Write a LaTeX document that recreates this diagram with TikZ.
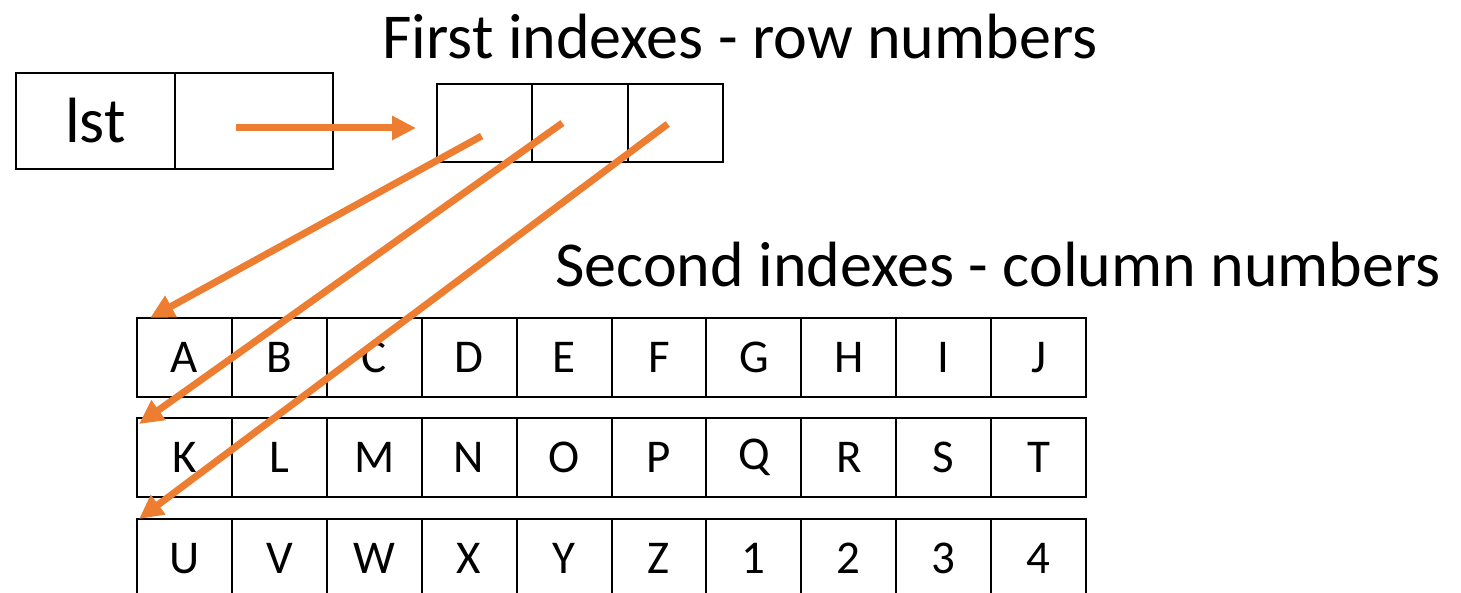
\documentclass[tikz,border=0pt]{standalone}
\usepackage{fontspec}
\setmainfont{Carlito}
\usetikzlibrary{arrows.meta,calc}
\definecolor{orng}{HTML}{ED7D31}
\begin{document}
\begin{tikzpicture}[x=1pt,y=-1pt,
  box/.style={draw,line width=2pt,inner sep=0pt,outer sep=0pt},
  cell/.style={box,minimum width=94.9pt,minimum height=79pt,font=\fontsize{47}{47}\selectfont},
  tcell/.style={box,minimum width=95.3pt,minimum height=78pt},
  lcell/.style={box,minimum width=158.5pt,minimum height=96pt,font=\fontsize{64}{64}\selectfont},
  arr/.style={draw=orng,line width=7pt,-{Triangle[length=24pt,width=23pt]}},
  title/.style={font=\fontsize{64}{64}\selectfont}
]
\useasboundingbox (0,0) rectangle (1461,593);
\clip (0,0) rectangle (1461,593);
\node[title] (h1) at (740,37) {First indexes - row numbers};
\node[title] (h2) at (998,265) {Second indexes - column numbers};
\node[lcell] (l1) at (95.5,121) {lst};
\node[lcell] (l2) at (254,121) {};
\foreach \i in {1,2,3}
  \node[tcell] (t\i) at ({437+95.3*(\i-0.5)},123) {};
\foreach \t [count=\i] in {A,B,C,D,E,F,G,H,I,J}
  \node[cell] (a\i) at ({137+94.9*(\i-0.5)},357.5) {\t};
\foreach \t [count=\i] in {K,L,M,N,O,P,Q,R,S,T}
  \node[cell] (b\i) at ({137+94.9*(\i-0.5)},457.5) {\t};
\foreach \t [count=\i] in {U,V,W,X,Y,Z,1,2,3,4}
  \node[cell] (c\i) at ({137+94.9*(\i-0.5)},558.5) {\t};
\coordinate (s0) at ($(l2.center)+(-18,7)$);
\coordinate (s1) at ($(t1.center)+(-3,13)$);
\coordinate (s2) at ($(t2.center)+(-17.5,0)$);
\coordinate (s3) at ($(t3.center)+(-7.5,1)$);
\coordinate (e1) at ($(a1.north west)+(13,0)$);
\coordinate (e2) at ($(b1.north west)+(2,6)$);
\coordinate (e3) at ($(c1.north west)+(2,0)$);
\draw[arr] (s0) -- ([xshift=-21pt]s0 -| t1.west);
\draw[arr] (s1) -- (e1);
\draw[arr] (s2) -- (e2);
\draw[arr] (s3) -- (e3);
\end{tikzpicture}
\end{document}
